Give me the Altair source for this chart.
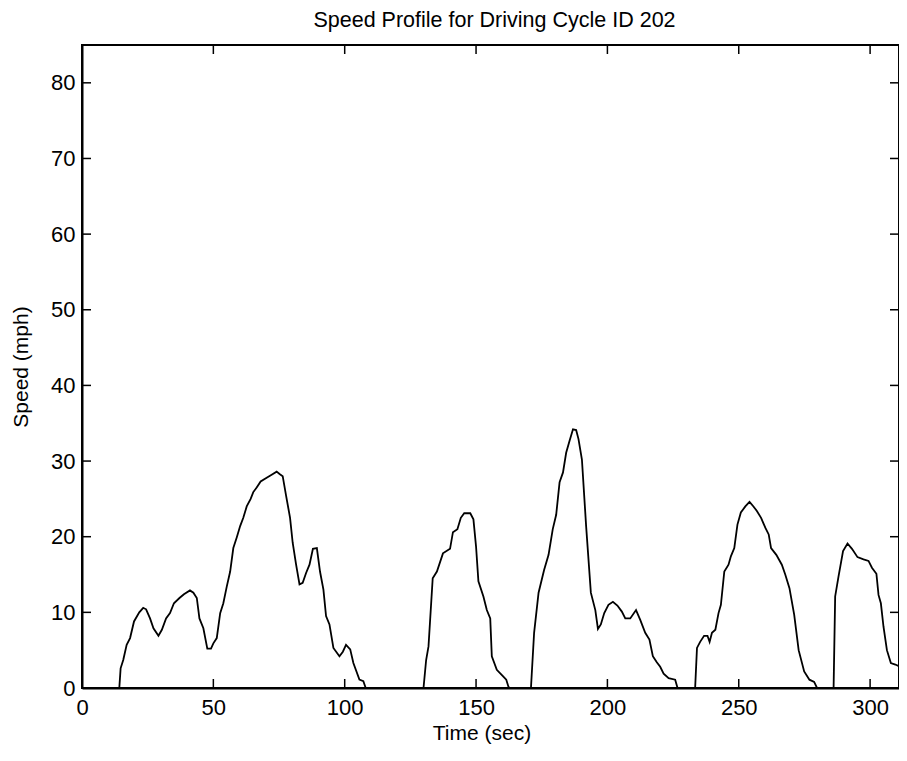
import altair as alt
import pandas as pd

# Time (sec) and speed (mph)
time_s = [0, 14.2, 14.7, 15.7, 17.0, 18.3, 19.8, 21.8, 23.3, 24.4, 25.9, 27.2, 29.1, 30.4, 32.0, 33.5,
          35.0, 37.1, 38.8, 41.1, 42.4, 43.7, 44.7, 46.2, 47.7, 49.1, 50.0, 51.3, 52.6, 53.8, 55.1,
          56.4, 57.6, 58.9, 60.2, 61.4, 62.7, 64.2, 65.2, 66.5, 68.0, 70.3, 72.2, 74.1, 75.2, 76.4,
          77.7, 79.2, 80.2, 81.5, 82.8, 84.0, 85.3, 86.6, 87.9, 89.4, 90.6, 91.9, 92.9, 94.2, 95.7,
          98.0, 99.3, 100.5, 102.1, 103.3, 105.6, 107.1, 108.0,
          130.0, 131.0, 131.9, 133.5, 135.1, 137.4, 140.1, 141.2, 142.9, 144.2, 145.5, 147.8, 149.0,
          150.0, 150.9, 152.8, 154.1, 155.4, 156.0, 157.9, 160.4, 161.5, 162.3, 162.6,
          170.9, 172.1, 173.8, 175.9, 177.6, 179.2, 180.5, 181.8, 183.1, 184.3, 185.6, 186.9, 188.1,
          189.0, 190.3, 191.9, 193.7, 195.4, 196.4, 197.5, 198.8, 200.4, 202.1, 203.8, 205.5, 206.8,
          208.7, 210.9, 212.5, 214.4, 216.0, 217.3, 218.8, 220.1, 221.4, 223.3, 225.8, 226.7,
          233.4, 234.1, 235.3, 236.8, 238.1, 238.9, 239.8, 241.1, 242.3, 243.2, 244.5, 246.1, 247.0,
          248.3, 249.5, 250.8, 252.5, 254.1, 255.6, 256.9, 258.5, 260.1, 261.4, 262.3, 264.3, 266.4,
          267.7, 269.3, 271.1, 272.8, 274.9, 276.9, 278.7, 279.8,
          286.1, 286.7, 288.0, 289.7, 291.4, 293.1, 295.2, 297.5, 299.4, 300.7, 302.4, 303.2, 304.1,
          305.1, 306.4, 307.9, 309.6, 310.9, 311.0]
speed_mph = [0, 0, 2.6, 3.7, 5.7, 6.6, 8.8, 10.0, 10.6, 10.4, 9.2, 7.9, 6.9, 7.7, 9.2, 9.9,
             11.2, 11.9, 12.4, 12.9, 12.6, 11.9, 9.2, 7.9, 5.2, 5.2, 5.9, 6.6, 9.9, 11.2, 13.4,
             15.4, 18.5, 19.9, 21.4, 22.5, 24.0, 25.0, 25.9, 26.5, 27.3, 27.8, 28.2, 28.6, 28.3, 28.0,
             25.4, 22.5, 19.2, 16.3, 13.7, 13.9, 15.2, 16.3, 18.4, 18.5, 15.4, 13.0, 9.5, 8.4, 5.3,
             4.2, 4.8, 5.7, 5.1, 3.3, 1.1, 0.9, 0,
             0, 3.7, 5.5, 14.5, 15.4, 17.8, 18.4, 20.6, 21.0, 22.5, 23.1, 23.1, 22.3,
             18.7, 14.1, 12.1, 10.3, 9.2, 4.2, 2.4, 1.5, 1.1, 0.2, 0,
             0, 7.3, 12.6, 15.6, 17.6, 21.0, 22.9, 27.2, 28.5, 31.1, 32.7, 34.2, 34.1,
             32.9, 30.2, 21.4, 12.6, 10.3, 7.8, 8.4, 9.9, 11.0, 11.4, 10.9, 10.1, 9.2,
             9.2, 10.3, 9.0, 7.3, 6.4, 4.2, 3.4, 2.8, 1.9, 1.3, 1.1, 0,
             0, 5.3, 6.1, 6.9, 6.9, 6.1, 7.3, 7.7, 9.9, 11.0, 15.4, 16.3, 17.4,
             18.5, 21.6, 23.2, 24.0, 24.6, 24.0, 23.4, 22.5, 21.2, 20.3, 18.5, 17.6, 16.3,
             15.0, 13.2, 9.7, 5.0, 2.2, 1.1, 0.8, 0,
             0, 12.1, 14.8, 18.1, 19.1, 18.4, 17.3, 17.0, 16.8, 15.9, 15.1, 12.3, 11.2,
             8.1, 5.0, 3.3, 3.1, 2.9, 3.0]

x_ticks = [0, 50, 100, 150, 200, 250, 300]
y_ticks = [0, 10, 20, 30, 40, 50, 60, 70, 80]

W, H = 817, 643
TICK = 9
FONT = "Liberation Sans"
FS = 22

df = pd.DataFrame({"t": time_s, "v": speed_mph})
xt = pd.DataFrame({"t": x_ticks})
yt = pd.DataFrame({"v": y_ticks})

xscale = alt.Scale(domain=[0, 311], nice=False, zero=False)
yscale = alt.Scale(domain=[0, 85], nice=False)

line = alt.Chart(df).mark_line(color="black", strokeWidth=1.8, clip=True).encode(
    x=alt.X("t:Q", scale=xscale, title="Time (sec)",
            axis=alt.Axis(values=x_ticks, tickSize=0, labelPadding=9, grid=False,
                          domainColor="black", domainWidth=2, labelFont=FONT, labelFontSize=FS,
                          labelColor="black", titleFont=FONT, titleFontSize=21,
                          titleFontWeight="normal", titleColor="black", titlePadding=4,
                          titleX=W / 2 - 9, labelFlush=False)),
    y=alt.Y("v:Q", scale=yscale, title="Speed (mph)",
            axis=alt.Axis(values=y_ticks, tickSize=0, labelPadding=7, grid=False,
                          domainColor="black", domainWidth=2, labelFont=FONT, labelFontSize=FS,
                          labelColor="black", titleFont=FONT, titleFontSize=21,
                          titleFontWeight="normal", titleColor="black", titlePadding=19,
                          labelFlush=False)),
)

bottom_ticks = alt.Chart(xt).mark_rule(color="black", strokeWidth=1.5).encode(
    x=alt.X("t:Q", scale=xscale), y=alt.value(H), y2=alt.value(H - TICK))
top_ticks = alt.Chart(xt).mark_rule(color="black", strokeWidth=1.5).encode(
    x=alt.X("t:Q", scale=xscale), y=alt.value(0), y2=alt.value(TICK))
left_ticks = alt.Chart(yt).mark_rule(color="black", strokeWidth=1.5).encode(
    y=alt.Y("v:Q", scale=yscale), x=alt.value(0), x2=alt.value(TICK))
right_ticks = alt.Chart(yt).mark_rule(color="black", strokeWidth=1.5).encode(
    y=alt.Y("v:Q", scale=yscale), x=alt.value(W), x2=alt.value(W - TICK))

chart = alt.layer(line, bottom_ticks, top_ticks, left_ticks, right_ticks).properties(
    width=W, height=H,
    title=alt.TitleParams("Speed Profile for Driving Cycle ID 202", font=FONT, fontSize=21.5,
                          fontWeight="normal", color="black", offset=13, dx=4),
    autosize=alt.AutoSizeParams(type="none"),
    padding={"left": 74, "top": 37, "right": 0, "bottom": 58},
    background="white",
).configure_view(stroke="black", strokeWidth=2)

chart.save("out.html", embed_options={"renderer": "svg", "actions": False})
